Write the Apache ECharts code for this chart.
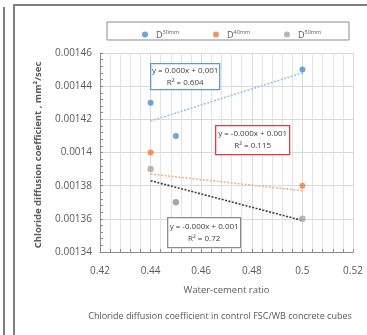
<!DOCTYPE html>
<html>
<head>
<meta charset="utf-8">
<script src="https://cdn.jsdelivr.net/npm/echarts@6/dist/echarts.min.js"></script>
<style>
  html, body { margin: 0; padding: 0; background: #fff; }
  #chart { width: 367px; height: 335px; }
</style>
</head>
<body>
<div id="chart"></div>
<script>
// water-cement ratios and measured coefficients (mm²/sec)
const seriesNames = ['D30mm', 'D40mm', 'D50mm']
const d30 = [[0.44, 0.00143], [0.45, 0.00141], [0.5, 0.00145]]
const d40 = [[0.44, 0.0014], [0.45, 0.00137], [0.5, 0.00138]]
const d50 = [[0.44, 0.00139], [0.45, 0.00137], [0.5, 0.00136]]

// linear trendlines, end points
const trend30 = [[0.44, 0.001419], [0.5, 0.001448]]
const trend40 = [[0.44, 0.001387], [0.5, 0.001377]]
const trend50 = [[0.44, 0.001383], [0.5, 0.001359]]

// trendline labels
const eq30 = ['y = 0.000x + 0.001', 'R² = 0.604']
const eq40 = ['y = -0.000x + 0.001', 'R² = 0.115']
const eq50 = ['y = -0.000x + 0.001', 'R² = 0.72']

const xTitle = 'Water-cement ratio'
const yTitle = 'Chloride diffusion coefficient , mm²/sec'
const caption = 'Chloride diffusion coefficient in control FSC/WB concrete cubes'

const font = 'Open Sans'
const colors = ['#4a8fd6', '#ed7d31', '#a5a5a5']
const trendColors = ['#9dc3e6', '#f4b183', '#404040']

const fmt = v => String(parseFloat(v.toFixed(5)))

// equation box on top of the plot
function eqBox(x, y, w, h, border, lines) {
  return {
    type: 'group', left: x, top: y, z: 100,
    children: [
      { type: 'rect', z: 100, shape: { x: 0, y: 0, width: w, height: h },
        style: { fill: '#fff', stroke: border, lineWidth: 1.3 } },
      { type: 'text', z: 101, x: w / 2, y: h / 2,
        style: { text: lines.join('\n'), align: 'center', verticalAlign: 'middle',
          font: '8px "' + font + '"', fill: '#404040', lineHeight: 12 } }
    ]
  }
}

const myChart = echarts.init(document.getElementById('chart'))
const option = {
  animation: false,
  grid: { left: 100, right: 14, top: 53, bottom: 83 },
  legend: {
    data: seriesNames,
    left: 137, top: 24,
    icon: 'circle', itemWidth: 6, itemHeight: 6, itemGap: 34,
    formatter: name => '{b|D}{s|' + name.slice(1) + '}',
    textStyle: {
      rich: {
        b: { fontFamily: font, fontSize: 9, color: '#595959', padding: [2, 0, 0, 3] },
        s: { fontFamily: font, fontSize: 5.5, color: '#595959', padding: [0, 0, 5, 0] }
      }
    }
  },
  xAxis: {
    type: 'value', min: 0.42, max: 0.52, interval: 0.02,
    name: xTitle, nameLocation: 'middle', nameGap: 33,
    nameTextStyle: { fontFamily: font, fontSize: 9.5, color: '#595959' },
    axisLine: { lineStyle: { color: '#8c8c8c' } },
    axisTick: { inside: true, length: 3, lineStyle: { color: '#8c8c8c' } },
    minorTick: { show: true, splitNumber: 5, length: 3, lineStyle: { color: '#8c8c8c' } },
    axisLabel: { formatter: fmt, fontFamily: font, fontSize: 10, color: '#595959', margin: 14 },
    splitLine: { lineStyle: { color: '#d9d9d9' } },
    minorSplitLine: { show: true, lineStyle: { color: '#e3e3e3' } }
  },
  yAxis: {
    type: 'value', min: 0.00134, max: 0.00146, interval: 0.00002,
    axisLine: { show: true, lineStyle: { color: '#8c8c8c' } },
    axisTick: { show: true, inside: true, length: 3, lineStyle: { color: '#8c8c8c' } },
    minorTick: { show: true, splitNumber: 5, length: 3, lineStyle: { color: '#8c8c8c' } },
    axisLabel: { formatter: fmt, fontFamily: font, fontSize: 10, color: '#595959', margin: 8 },
    splitLine: { lineStyle: { color: '#d9d9d9' } }
  },
  series: [
    { name: seriesNames[0], type: 'scatter', data: d30, symbolSize: 6, itemStyle: { color: colors[0] } },
    { name: seriesNames[1], type: 'scatter', data: d40, symbolSize: 6, itemStyle: { color: colors[1] } },
    { name: seriesNames[2], type: 'scatter', data: d50, symbolSize: 6.5, itemStyle: { color: colors[2] } },
    { type: 'line', data: trend30, symbol: 'none', z: 1, lineStyle: { color: trendColors[0], type: [2, 1.5], width: 1.6 } },
    { type: 'line', data: trend40, symbol: 'none', z: 1, lineStyle: { color: trendColors[1], type: [2, 1.5], width: 1.6 } },
    { type: 'line', data: trend50, symbol: 'none', z: 1, lineStyle: { color: trendColors[2], type: [2, 1.5], width: 1.6 } }
  ],
  graphic: [
    // outer frames
    { type: 'line', shape: { x1: 4, y1: 7, x2: 4, y2: 335 }, style: { stroke: '#7f7f7f', lineWidth: 2 } },
    { type: 'line', shape: { x1: 14, y1: 5, x2: 14, y2: 335 }, style: { stroke: '#7f7f7f', lineWidth: 2 } },
    { type: 'line', shape: { x1: 13, y1: 5, x2: 367, y2: 5 }, style: { stroke: '#7f7f7f', lineWidth: 2 } },
    // legend box
    { type: 'rect', shape: { x: 107, y: 22, width: 242, height: 18 }, style: { fill: 'none', stroke: '#8c8c8c', lineWidth: 1 } },
    // axis title, caption
    { type: 'text', x: 38, y: 155, rotation: Math.PI / 2,
      style: { text: yTitle, align: 'center', verticalAlign: 'middle', font: 'bold 9.5px "' + font + '"', fill: '#595959' } },
    { type: 'text', x: 220, y: 316,
      style: { text: caption, align: 'center', verticalAlign: 'middle', font: '9px "' + font + '"', fill: '#595959' } },
    eqBox(150, 63, 69, 26, '#5b9bd5', eq30),
    eqBox(215, 125, 74, 29, '#e83a3a', eq40),
    eqBox(167, 217, 73, 30, '#8c8c8c', eq50)
  ]
}

option && myChart.setOption(option)
</script>
</body>
</html>
